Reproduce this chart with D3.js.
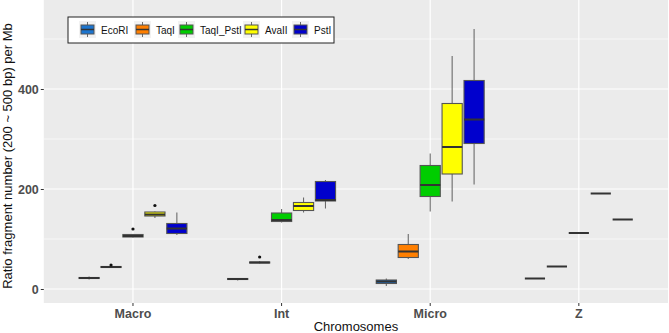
<!DOCTYPE html>
<html>
<head>
<meta charset="utf-8">
<script src="https://cdn.jsdelivr.net/npm/d3@7"></script>
<style>
  body { margin: 0; background: #fff; }
  text { font-family: "Liberation Sans", Arial, sans-serif; }
</style>
</head>
<body>
<svg></svg>
<script>
const chromosomes = ["Macro", "Int", "Micro", "Z"];
const enzymes = ["EcoRI", "TaqI", "TaqI_PstI", "AvaII", "PstI"];
const colors = ["#1C75CF", "#FF7F00", "#00CD00", "#FFFF00", "#0000CD"];

// [min, q1, median, q3, max] per chromosome group
const ecoRI = [[19, 21, 22, 23, 25], [17, 19, 20, 21, 22], [6, 11, 15, 18, 21], [21, 21, 21, 21, 21]];
const taqI = [[42, 43, 44, 45, 46], [51, 52, 53, 54, 56], [60, 63, 75, 89, 110], [45, 45, 45, 45, 45]];
const taqIPstI = [[103, 104, 106, 109, 110], [133, 135, 138, 152, 160], [155, 185, 208, 247, 271], [112, 112, 112, 112, 112]];
const avaII = [[142, 146, 149, 154, 155], [153, 157, 166, 173, 183], [175, 230, 284, 371, 466], [191, 191, 191, 191, 191]];
const pstI = [[108, 111, 121, 131, 153], [161, 176, 178, 215, 218], [209, 291, 339, 417, 520], [139, 139, 139, 139, 139]];
const outliers = [
  { chrom: "Macro", enzyme: "TaqI", value: 48 },
  { chrom: "Macro", enzyme: "TaqI_PstI", value: 120 },
  { chrom: "Macro", enzyme: "AvaII", value: 167 },
  { chrom: "Int", enzyme: "TaqI", value: 64 }
];

const series = [ecoRI, taqI, taqIPstI, avaII, pstI];
const boxes = [];
enzymes.forEach((e, i) => chromosomes.forEach((c, j) => {
  const s = series[i][j];
  boxes.push({ enzyme: e, chrom: c, min: s[0], q1: s[1], med: s[2], q3: s[3], max: s[4] });
}));

const width = 669, height = 333;
const panel = { left: 43.8, right: 668, top: 0, bottom: 303 };

const svg = d3.select("svg").attr("width", width).attr("height", height);

const x = d3.scaleBand().domain(chromosomes).range([panel.left, panel.right]).paddingInner(0).paddingOuter(0.1);
const step = x.step();
const xInner = d3.scaleBand().domain(enzymes).range([-0.375 * step, 0.375 * step]).padding(0.08);
const y = d3.scaleLinear().domain([-28, 578]).range([panel.bottom, panel.top]);
const color = d3.scaleOrdinal().domain(enzymes).range(colors);

const cx = d => x(d.chrom) + x.bandwidth() / 2 + xInner(d.enzyme) + xInner.bandwidth() / 2;

// panel
svg.append("rect").attr("x", panel.left).attr("y", panel.top)
  .attr("width", panel.right - panel.left).attr("height", panel.bottom - panel.top)
  .attr("fill", "#EBEBEB");

const grid = svg.append("g");
grid.selectAll(".minor").data([100, 300, 500]).enter().append("line")
  .attr("x1", panel.left).attr("x2", panel.right)
  .attr("y1", d => y(d)).attr("y2", d => y(d))
  .attr("stroke", "#fff").attr("stroke-width", 0.6);
grid.selectAll(".major").data([0, 200, 400]).enter().append("line")
  .attr("x1", panel.left).attr("x2", panel.right)
  .attr("y1", d => y(d)).attr("y2", d => y(d))
  .attr("stroke", "#fff").attr("stroke-width", 1.2);
grid.selectAll(".vmajor").data(chromosomes).enter().append("line")
  .attr("x1", d => x(d) + x.bandwidth() / 2).attr("x2", d => x(d) + x.bandwidth() / 2)
  .attr("y1", panel.top).attr("y2", panel.bottom)
  .attr("stroke", "#fff").attr("stroke-width", 1.2);

// boxplots
const bw = xInner.bandwidth();
const g = svg.append("g");
const bx = g.selectAll(".box").data(boxes).enter().append("g");
bx.append("line")
  .attr("x1", cx).attr("x2", cx)
  .attr("y1", d => y(d.q3)).attr("y2", d => y(d.max))
  .attr("stroke", "#6b6b6b").attr("stroke-width", 1.1);
bx.append("line")
  .attr("x1", cx).attr("x2", cx)
  .attr("y1", d => y(d.q1)).attr("y2", d => y(d.min))
  .attr("stroke", "#6b6b6b").attr("stroke-width", 1.1);
bx.filter(d => d.q3 > d.q1).append("rect")
  .attr("x", d => cx(d) - bw / 2).attr("width", bw)
  .attr("y", d => y(d.q3)).attr("height", d => y(d.q1) - y(d.q3))
  .attr("fill", d => color(d.enzyme))
  .attr("stroke", "#555").attr("stroke-width", 1.1);
bx.append("line")
  .attr("x1", d => cx(d) - bw / 2).attr("x2", d => cx(d) + bw / 2)
  .attr("y1", d => y(d.med)).attr("y2", d => y(d.med))
  .attr("stroke", "#333").attr("stroke-width", 2);

g.selectAll(".out").data(outliers).enter().append("circle")
  .attr("cx", cx).attr("cy", d => y(d.value)).attr("r", 1.6).attr("fill", "#111");

// axes
const yAxis = svg.append("g").attr("transform", `translate(${panel.left},0)`)
  .call(d3.axisLeft(y).tickValues([0, 200, 400]).tickSize(3).tickPadding(2));
const xAxis = svg.append("g").attr("transform", `translate(0,${panel.bottom})`)
  .call(d3.axisBottom(x).tickSize(3).tickPadding(3));
[yAxis, xAxis].forEach(a => {
  a.select(".domain").remove();
  a.selectAll(".tick line").attr("stroke", "#333");
  a.selectAll(".tick text").attr("fill", "#4D4D4D").attr("font-weight", "bold")
    .attr("font-size", 12.5).style("font-family", "'Liberation Sans', Arial, sans-serif");
});

svg.append("text")
  .attr("x", (panel.left + panel.right) / 2).attr("y", 331)
  .attr("text-anchor", "middle").attr("font-size", 13).attr("fill", "#111")
  .text("Chromosomes");
svg.append("text")
  .attr("transform", `translate(12,${156}) rotate(-90)`)
  .attr("text-anchor", "middle").attr("font-size", 13).attr("fill", "#111")
  .text("Ratio fragment number (200 ~ 500 bp) per Mb");

// legend
const legend = svg.append("g").attr("transform", "translate(68,17)");
legend.append("rect").attr("width", 266).attr("height", 26)
  .attr("fill", "#fff").attr("stroke", "#222").attr("stroke-width", 1);
const keyX = [11, 66, 110, 175, 224];
const item = legend.selectAll(".item").data(enzymes).enter().append("g")
  .attr("transform", (d, i) => `translate(${keyX[i]},4)`);
item.append("rect").attr("width", 17).attr("height", 17).attr("fill", "#F2F2F2");
item.append("line").attr("x1", 8.5).attr("x2", 8.5).attr("y1", 1).attr("y2", 16)
  .attr("stroke", "#6b6b6b").attr("stroke-width", 1);
item.append("rect").attr("x", 2).attr("y", 4).attr("width", 13).attr("height", 9)
  .attr("fill", d => color(d)).attr("stroke", "#555").attr("stroke-width", 1);
item.append("line").attr("x1", 2).attr("x2", 15).attr("y1", 8.5).attr("y2", 8.5)
  .attr("stroke", "#333").attr("stroke-width", 1.5);
item.append("text").attr("x", 22).attr("y", 12.5).attr("font-size", 10).attr("fill", "#111")
  .text(d => d);
</script>
</body>
</html>
